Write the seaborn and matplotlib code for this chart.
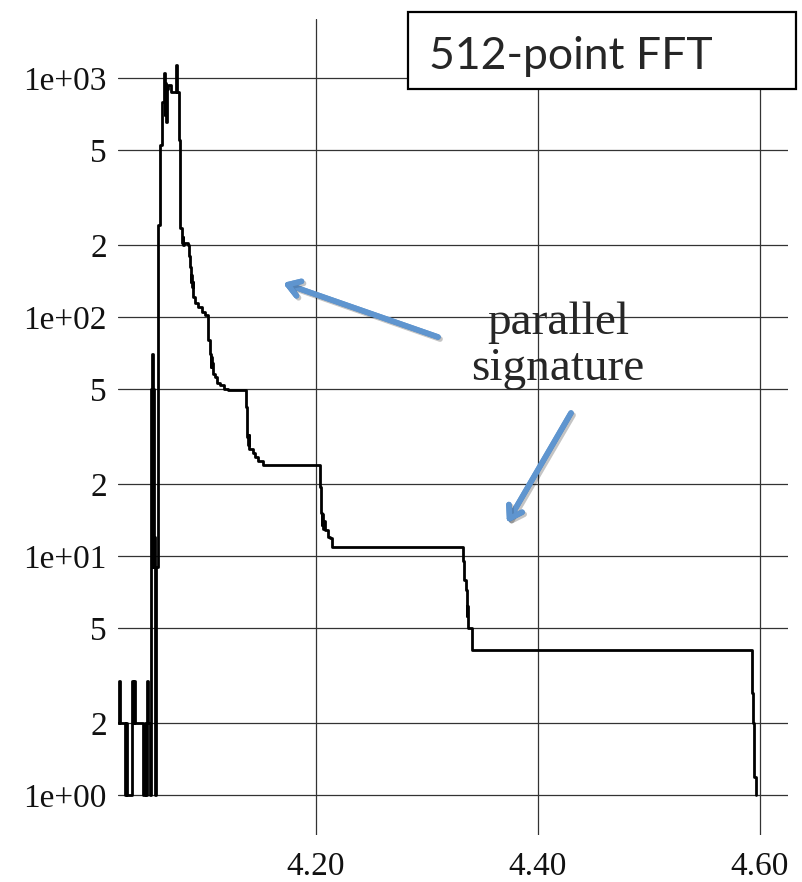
import numpy as np
import pandas as pd
import matplotlib.pyplot as plt
import matplotlib.patheffects as pe
from matplotlib.patches import Rectangle
import seaborn as sns

# ── data ──────────────────────────────────────────────────────────────────────
freq = [4.0216, 4.0225, 4.0238, 4.0282, 4.0292, 4.0298, 4.0345, 4.0354, 4.0359,
        4.0370, 4.0440, 4.0455, 4.0466, 4.0474, 4.0490, 4.0500, 4.0508, 4.0512,
        4.0516, 4.0520, 4.0523, 4.0527, 4.0531, 4.0535, 4.0540, 4.0545, 4.0555,
        4.0577, 4.0595, 4.0613, 4.0628, 4.0636, 4.0642, 4.0650, 4.0658, 4.0668,
        4.0690, 4.0740, 4.0750, 4.0765, 4.0775, 4.0790, 4.0795, 4.0800, 4.0806,
        4.0812, 4.0847, 4.0860, 4.0865, 4.0872, 4.0876, 4.0883, 4.0888, 4.0895,
        4.0910, 4.0940, 4.0973, 4.1000, 4.1027, 4.1045, 4.1052, 4.1058, 4.1063,
        4.1075, 4.1090, 4.1110, 4.1135, 4.1170, 4.1207, 4.1369, 4.1380, 4.1386,
        4.1392, 4.1398, 4.1410, 4.1432, 4.1450, 4.1477, 4.1523, 4.2036, 4.2045,
        4.2052, 4.2058, 4.2064, 4.2070, 4.2081, 4.2110, 4.2126, 4.2144, 4.3324,
        4.3330, 4.3350, 4.3360, 4.3364, 4.3369, 4.3405, 4.5928, 4.5937, 4.5950,
        4.5960]
count = [2, 3, 2, 1, 2, 1, 3, 2, 3,
         2, 1, 2, 1, 3, 2, 1.3, 1, 9,
         50, 9, 70, 53, 9, 50, 12, 1, 9,
         243, 524, 793, 1050, 700, 950, 654, 900, 935,
         870, 1133, 874, 550, 236, 217, 205, 217, 200,
         205, 200, 180, 162, 140, 150, 133, 140, 121,
         115, 110, 105, 102, 80, 70, 62, 68, 64,
         58, 56, 53, 52, 50, 49.6, 42, 31.5, 29,
         32, 28, 28, 27, 26, 25, 24, 19.4, 15.1,
         13.5, 15, 13, 14, 12.8, 12, 11.9, 10.9, 9.5,
         7.9, 7.2, 5.6, 6.2, 5.0, 4.05, 2.67, 2.0, 1.19,
         1.0]

ytick_vals = [1, 2, 5, 10, 20, 50, 100, 200, 500, 1000]
ytick_labels = ['1e+00', '2', '5', '1e+01', '2', '5', '1e+02', '2', '5', '1e+03']
xtick_vals = [4.20, 4.40, 4.60]
xtick_labels = ['4.20', '4.40', '4.60']

df = pd.DataFrame({'freq': freq, 'count': count})

# ── figure ────────────────────────────────────────────────────────────────────
sns.set_style('white')
plt.rcParams['font.family'] = ['Liberation Serif', 'DejaVu Serif']

W, H = 802, 882
fig = plt.figure(figsize=(W / 100, H / 100), dpi=100)
ax = fig.add_axes([118 / W, 1 - 835 / H, (788 - 118) / W, (835 - 19) / H])

sns.lineplot(data=df, x='freq', y='count', ax=ax, color='black', lw=2.0,
             drawstyle='steps-post', estimator=None, sort=False, zorder=3)

ax.set_yscale('log')
ax.set_xlim(4.0216, 4.6252)
ax.set_ylim(0.68, 1766)
ax.set_yticks(ytick_vals)
ax.set_yticklabels(ytick_labels)
ax.minorticks_off()
ax.set_xticks(xtick_vals)
ax.set_xticklabels(xtick_labels)
ax.tick_params(axis='y', length=0, pad=8, labelsize=24, labelcolor='#111111')
ax.tick_params(axis='x', length=0, pad=12, labelsize=24, labelcolor='#111111')
ax.grid(True, color='#333333', lw=0.9)
ax.set_axisbelow(True)
ax.set_xlabel('')
ax.set_ylabel('')
for s in ax.spines.values():
    s.set_visible(False)

# title box
fig.add_artist(Rectangle((408 / W, 1 - 89 / H), 388 / W, 77 / H,
                         transform=fig.transFigure, facecolor='white',
                         edgecolor='black', lw=1.6, zorder=5))
fig.text(429 / W, 1 - 69 / H, '512-point FFT', fontsize=32,
         family=['Lato', 'DejaVu Sans'], va='baseline', ha='left', zorder=6)

# annotation
fig.text(558 / W, 1 - 334 / H, 'parallel', fontsize=34, ha='center',
         va='baseline', zorder=6)
fig.text(558 / W, 1 - 380 / H, 'signature', fontsize=34, ha='center',
         va='baseline', zorder=6)

arrow_kw = dict(arrowstyle='->, head_length=0.85, head_width=0.55',
                color='#5f95cf', lw=4, shrinkA=0, shrinkB=0,
                path_effects=[pe.SimpleLineShadow(offset=(1.5, -1.5), alpha=0.12),
                              pe.Normal()])
for (x0, y0), (x1, y1) in [((438, 337), (283, 283)), ((571, 413), (507, 523))]:
    fig.add_artist(plt.annotate('', xy=(x1 / W, 1 - y1 / H), xycoords='figure fraction',
                                xytext=(x0 / W, 1 - y0 / H), textcoords='figure fraction',
                                arrowprops=arrow_kw))

fig.savefig('out.png', dpi=100)
